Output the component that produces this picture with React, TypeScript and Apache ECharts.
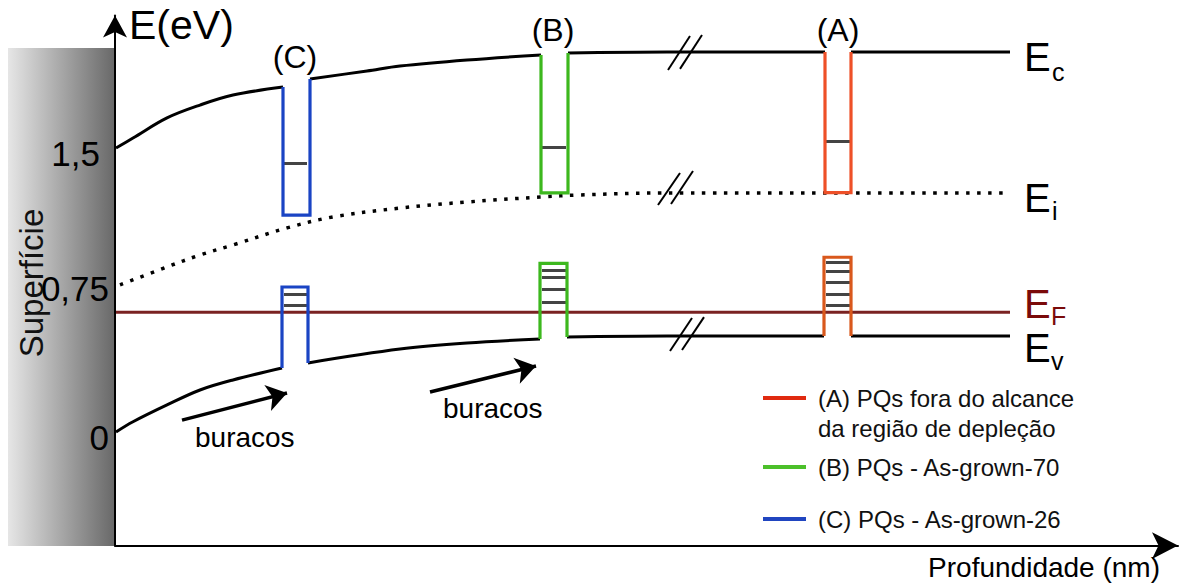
import React, { useEffect, useRef } from "react";
import * as echarts from "echarts";

const FONT = "'Liberation Sans', Arial, Helvetica, sans-serif";

// x = depth (arbitrary units), y = energy (eV)
const ecSeg1 = [[1, 1.5], [18, 1.553], [52, 1.659], [85, 1.727], [118, 1.78], [168, 1.822]];
const ecSeg2 = [[195, 1.865], [252, 1.907], [285, 1.933], [352, 1.965], [426, 1.992]];
const ecSeg3 = [[453, 2.002], [552, 2.007], [710, 2.007]];
const ecSeg4 = [[736, 2.007], [895, 2.007]];

const evSeg1 = [[1, 0], [18, 0.054], [52, 0.143], [85, 0.222], [118, 0.275], [167, 0.338]];
const evSeg2 = [[193, 0.365], [285, 0.438], [352, 0.47], [425, 0.491]];
const evSeg3 = [[452, 0.502], [552, 0.507], [709, 0.507]];
const evSeg4 = [[736, 0.507], [895, 0.507]];

const eiCurve = [[5, 0.777], [52, 0.872], [85, 0.935], [118, 0.988], [172, 1.078], [218, 1.136], [285, 1.183], [352, 1.215], [425, 1.241], [465, 1.252], [552, 1.263], [892, 1.263]];
const efLine = [[1, 0.632], [895, 0.632]];

const wellCcond = [[168, 1.822], [168, 1.146], [195, 1.146], [195, 1.865]];
const wellCval = [[167, 0.338], [167, 0.766], [193, 0.766], [193, 0.365]];
const wellBcond = [[426, 1.992], [426, 1.263], [453, 1.263], [453, 2.002]];
const wellBval = [[425, 0.491], [425, 0.891], [452, 0.891], [452, 0.502]];
const wellAcond = [[710, 2.007], [710, 1.264], [736, 1.264], [736, 2.007]];
const wellAval = [[709, 0.507], [709, 0.923], [736, 0.923], [736, 0.507]];

const levelsC = [1.421, 0.729, 0.671];
const levelsB = [1.506, 0.856, 0.817, 0.754, 0.688];
const levelsA = [1.534, 0.896, 0.85, 0.791, 0.727, 0.667];
const levelSpanC = [169, 192];
const levelSpanB = [427, 451];
const levelSpanA = [711, 735];

const arrows = [
  [[67, 0.063], [172, 0.206]],
  [[315, 0.211], [421, 0.349]],
];
const breakMarks = [
  [[553, 1.912], [575, 2.092]], [[565, 1.918], [587, 2.097]],
  [[543, 1.199], [565, 1.368]], [[556, 1.204], [578, 1.379]],
  [[555, 0.428], [577, 0.602]], [[567, 0.433], [589, 0.607]],
];

const yTicks = [0, 0.75, 1.5];

const legendItems = [
  { lines: ["(A) PQs fora do alcance", "da região de depleção"], color: "#e02a10", y: 398 },
  { lines: ["(B) PQs - As-grown-70"], color: "#4cc02a", y: 467 },
  { lines: ["(C) PQs - As-grown-26"], color: "#2045c0", y: 519 },
];

const BLACK = "#000";
const C_COLOR = "#1a44c4";
const B_COLOR = "#3db81e";
const A_COND = "#ee5028";
const A_VAL = "#d9581c";

function seg(data: number[][], color: string, width = 3, smooth: boolean | number = 0.35) {
  return {
    type: "line",
    data,
    smooth,
    showSymbol: false,
    symbol: "none",
    lineStyle: { color, width, cap: "butt", join: "miter" },
    z: 3,
  };
}

function well(data: number[][], color: string) {
  return {
    type: "line",
    data,
    smooth: false,
    symbol: "none",
    lineStyle: { color, width: 3.2, join: "miter", cap: "butt" },
    z: 5,
  };
}

function levelLines(levels: number[], span: number[]) {
  return levels.map((v) => ({ coords: [[span[0], v], [span[1], v]] }));
}

export default function App() {
  const ref = useRef<HTMLDivElement>(null);
  useEffect(() => {
    if (!ref.current) return;
    const chart = echarts.init(ref.current, undefined, { renderer: "svg" });

    const graphics: any[] = [
      {
        type: "rect",
        z: -10,
        shape: { x: 8, y: 48, width: 107, height: 498 },
        style: {
          fill: new echarts.graphic.LinearGradient(0, 0, 1, 0, [
            { offset: 0, color: "#e6e6e6" },
            { offset: 1, color: "#686868" },
          ]),
        },
      },
      {
        type: "text", x: 31, y: 283, rotation: Math.PI / 2,
        style: { text: "Superfície", font: `33px ${FONT}`, fill: "#111", align: "center", verticalAlign: "middle" },
      },
      { type: "text", x: 129, y: 25, style: { text: "E(eV)", font: `41px ${FONT}`, fill: "#000", align: "left", verticalAlign: "middle" } },
      { type: "text", x: 295, y: 57, style: { text: "(C)", font: `32px ${FONT}`, fill: "#000", align: "center", verticalAlign: "middle" } },
      { type: "text", x: 553, y: 30, style: { text: "(B)", font: `32px ${FONT}`, fill: "#000", align: "center", verticalAlign: "middle" } },
      { type: "text", x: 838, y: 30, style: { text: "(A)", font: `32px ${FONT}`, fill: "#000", align: "center", verticalAlign: "middle" } },
      { type: "text", x: 1024, y: 57, style: { text: "E", font: `40px ${FONT}`, fill: "#000", align: "left", verticalAlign: "middle" } },
      { type: "text", x: 1052, y: 72, style: { text: "c", font: `25px ${FONT}`, fill: "#000", align: "left", verticalAlign: "middle" } },
      { type: "text", x: 1024, y: 198, style: { text: "E", font: `40px ${FONT}`, fill: "#000", align: "left", verticalAlign: "middle" } },
      { type: "text", x: 1052, y: 211, style: { text: "i", font: `25px ${FONT}`, fill: "#000", align: "left", verticalAlign: "middle" } },
      { type: "text", x: 1024, y: 304, style: { text: "E", font: `40px ${FONT}`, fill: "#7a0a0a", align: "left", verticalAlign: "middle" } },
      { type: "text", x: 1051, y: 316, style: { text: "F", font: `25px ${FONT}`, fill: "#7a0a0a", align: "left", verticalAlign: "middle" } },
      { type: "text", x: 1024, y: 348, style: { text: "E", font: `40px ${FONT}`, fill: "#000", align: "left", verticalAlign: "middle" } },
      { type: "text", x: 1051, y: 361, style: { text: "v", font: `25px ${FONT}`, fill: "#000", align: "left", verticalAlign: "middle" } },
      { type: "text", x: 195, y: 437, style: { text: "buracos", font: `28px ${FONT}`, fill: "#000", align: "left", verticalAlign: "middle" } },
      { type: "text", x: 443, y: 408, style: { text: "buracos", font: `28px ${FONT}`, fill: "#000", align: "left", verticalAlign: "middle" } },
      { type: "text", x: 1160, y: 567, style: { text: "Profundidade (nm)", font: `28px ${FONT}`, fill: "#000", align: "right", verticalAlign: "middle" } },
    ];
    legendItems.forEach((it) => {
      graphics.push({
        type: "line",
        shape: { x1: 763, y1: it.y, x2: 806, y2: it.y },
        style: { stroke: it.color, lineWidth: 4 },
      });
      it.lines.forEach((t, i) => {
        graphics.push({
          type: "text", x: 818, y: it.y + i * 30,
          style: { text: t, font: `24px ${FONT}`, fill: "#111", align: "left", verticalAlign: "middle" },
        });
      });
    });

    const option: any = {
      animation: false,
      grid: { left: 115, right: 6, top: 15.5, bottom: 38.4 },
      xAxis: {
        type: "value",
        min: 0,
        max: 1063,
        axisLine: { show: true, onZero: false, lineStyle: { color: "#000", width: 2 }, symbol: ["none", "arrow"], symbolSize: [20, 26], symbolOffset: [0, 0] },
        axisTick: { show: false },
        axisLabel: { show: false },
        splitLine: { show: false },
      },
      yAxis: {
        type: "value",
        min: -0.6,
        max: 2.2,
        axisLine: { show: true, onZero: false, lineStyle: { color: "#000", width: 2 }, symbol: ["none", "arrow"], symbolSize: [18, 22], symbolOffset: [0, 0] },
        axisTick: { show: false },
        splitLine: { show: false },
        axisLabel: {
          show: true,
          customValues: yTicks,
          formatter: (v: number) => {
            const s = String(v).replace(".", ",");
            if (v === 0) return `{z|${s}}`;
            if (v === 1.5) return `{h|${s}}`;
            return `{m|${s}}`;
          },
          rich: {
            z: { fontSize: 35, fontFamily: FONT, color: "#000", padding: [10, 0, 0, 0] },
            h: { fontSize: 35, fontFamily: FONT, color: "#000", padding: [10, 9, 0, 0] },
            m: { fontSize: 35, fontFamily: FONT, color: "#000", padding: [0, 0, 4, 0] },
          },
          color: "#000",
          fontSize: 35,
          fontFamily: FONT,
          margin: 6,
        },
      },
      graphic: graphics,
      series: [
        seg(ecSeg1, BLACK), seg(ecSeg2, BLACK), seg(ecSeg3, BLACK), seg(ecSeg4, BLACK, 3, false),
        seg(evSeg1, BLACK), seg(evSeg2, BLACK), seg(evSeg3, BLACK), seg(evSeg4, BLACK, 3, false),
        {
          type: "line", data: eiCurve, smooth: 0.35, symbol: "none",
          lineStyle: { color: BLACK, width: 3.5, type: [3.5, 7.5], cap: "butt" }, z: 3,
        },
        seg(efLine, "#7a2222", 3, false),
        {
          type: "lines", coordinateSystem: "cartesian2d", z: 4,
          lineStyle: { color: "#444", width: 3, opacity: 1 },
          symbol: "none",
          data: [...levelLines(levelsC, levelSpanC), ...levelLines(levelsB, levelSpanB), ...levelLines(levelsA, levelSpanA)],
        },
        well(wellCcond, C_COLOR), well(wellCval, C_COLOR),
        well(wellBcond, B_COLOR), well(wellBval, B_COLOR),
        well(wellAcond, A_COND), well(wellAval, A_VAL),
        {
          type: "lines", coordinateSystem: "cartesian2d", z: 6,
          symbol: ["none", "arrow"], symbolSize: 20,
          lineStyle: { color: "#000", width: 3.5, opacity: 1 },
          data: arrows.map((c) => ({ coords: c })),
        },
        {
          type: "lines", coordinateSystem: "cartesian2d", z: 6,
          symbol: "none",
          lineStyle: { color: "#000", width: 2, opacity: 1 },
          data: breakMarks.map((c) => ({ coords: c })),
        },
      ],
    };
    chart.setOption(option);
    return () => chart.dispose();
  }, []);
  return <div ref={ref} style={{ position: "fixed", left: 0, top: 0, width: 1184, height: 584, background: "#fff" }} />;
}
